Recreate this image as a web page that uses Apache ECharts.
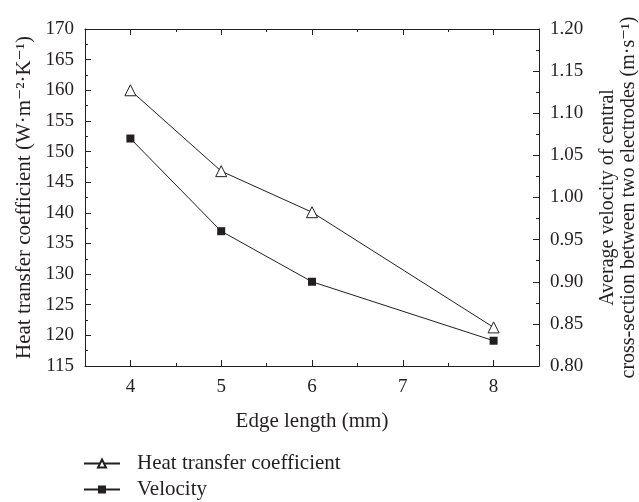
<!DOCTYPE html>
<html>
<head>
<meta charset="utf-8">
<script src="https://cdn.jsdelivr.net/npm/echarts@6/dist/echarts.min.js"></script>
<style>
  html, body { margin: 0; padding: 0; background: #fff; }
  #chart { width: 639px; height: 502px; }
</style>
</head>
<body>
<div id="chart"></div>
<script>
// Edge length of the electrodes (mm)
const edgeLengths = [4, 5, 6, 8];
// Heat transfer coefficient (W·m⁻²·K⁻¹)
const heatTransfer = [160, 146.8, 140.1, 121.3];
// Average velocity of the central cross-section (m·s⁻¹)
const velocity = [1.07, 0.96, 0.90, 0.83];

// Tick positions along the edge-length axis
const majorTicks = [4, 5, 6, 7, 8];
const minorTicks = [4.5, 5.5, 6.5, 7.5];

const INK = '#231f20';
const FONT = '"Liberation Serif", "DejaVu Serif", serif';

const chart = echarts.init(document.getElementById('chart'));

function edgeAxis(position, ticks, len, withLabels, withLine) {
  return {
    type: 'value',
    position: position,
    min: 3.5,
    max: 8.5,
    axisLine: { show: withLine, onZero: false, lineStyle: { color: INK, width: 1 } },
    axisTick: { show: true, inside: true, length: len, customValues: ticks, lineStyle: { color: INK, width: 1 } },
    axisLabel: withLabels
      ? { show: true, customValues: ticks, margin: 12, color: INK, fontFamily: FONT, fontSize: 19 }
      : { show: false },
    splitLine: { show: false }
  };
}

const bottomAxis = edgeAxis('bottom', majorTicks, 6, true, true);
bottomAxis.name = 'Edge length (mm)';
bottomAxis.nameLocation = 'middle';
bottomAxis.nameGap = 45;
bottomAxis.nameTextStyle = { color: INK, fontFamily: FONT, fontSize: 21 };

const option = {
  animation: false,
  backgroundColor: '#fff',
  textStyle: { fontFamily: FONT, color: INK },
  grid: { left: 85, right: 100, top: 29, bottom: 136, containLabel: false, outerBoundsMode: 'none' },
  legend: {
    orient: 'vertical',
    left: 83,
    top: 453,
    padding: 0,
    itemWidth: 36,
    itemHeight: 10,
    itemGap: 5,
    textStyle: { color: INK, fontFamily: FONT, fontSize: 21, padding: [0, 0, 0, 12] },
    data: ['Heat transfer coefficient', 'Velocity']
  },
  xAxis: [
    bottomAxis,
    edgeAxis('bottom', minorTicks, 3, false, false),
    edgeAxis('top', majorTicks, 6, false, true),
    edgeAxis('top', minorTicks, 3, false, false)
  ],
  yAxis: [
    {
      type: 'value',
      position: 'left',
      min: 115,
      max: 170,
      interval: 5,
      name: 'Heat transfer coefficient (W·m⁻²·K⁻¹)',
      nameLocation: 'middle',
      nameRotate: 90,
      nameGap: 50,
      nameTextStyle: { color: INK, fontFamily: FONT, fontSize: 21 },
      axisLine: { show: true, onZero: false, lineStyle: { color: INK, width: 1 } },
      axisTick: { show: true, inside: true, length: 6, lineStyle: { color: INK, width: 1 } },
      minorTick: { show: true, splitNumber: 2, length: 3, lineStyle: { color: INK, width: 1 } },
      axisLabel: { margin: 11, color: INK, fontFamily: FONT, fontSize: 19 },
      splitLine: { show: false }
    },
    {
      type: 'value',
      position: 'right',
      min: 0.8,
      max: 1.2,
      interval: 0.05,
      name: 'Average velocity of central\ncross-section between two electrodes (m·s⁻¹)',
      nameLocation: 'middle',
      nameRotate: 90,
      nameGap: 58,
      nameTextStyle: { color: INK, fontFamily: FONT, fontSize: 20, lineHeight: 21 },
      axisLine: { show: true, onZero: false, lineStyle: { color: INK, width: 1 } },
      axisTick: { show: true, inside: true, length: 6, lineStyle: { color: INK, width: 1 } },
      minorTick: { show: true, splitNumber: 2, length: 3, lineStyle: { color: INK, width: 1 } },
      axisLabel: {
        margin: 11, color: INK, fontFamily: FONT, fontSize: 19,
        formatter: v => v.toFixed(2)
      },
      splitLine: { show: false }
    }
  ],
  series: [
    {
      name: 'Heat transfer coefficient',
      type: 'line',
      xAxisIndex: 0,
      yAxisIndex: 0,
      data: edgeLengths.map((x, i) => [x, heatTransfer[i]]),
      symbol: 'triangle',
      symbolSize: 11,
      lineStyle: { color: INK, width: 1 },
      itemStyle: { color: '#fff', borderColor: INK, borderWidth: 1 }
    },
    {
      name: 'Velocity',
      type: 'line',
      xAxisIndex: 0,
      yAxisIndex: 1,
      data: edgeLengths.map((x, i) => [x, velocity[i]]),
      symbol: 'rect',
      symbolSize: 8,
      lineStyle: { color: INK, width: 1 },
      itemStyle: { color: INK, borderColor: INK, borderWidth: 0 }
    }
  ]
};

chart.setOption(option);
</script>
</body>
</html>
